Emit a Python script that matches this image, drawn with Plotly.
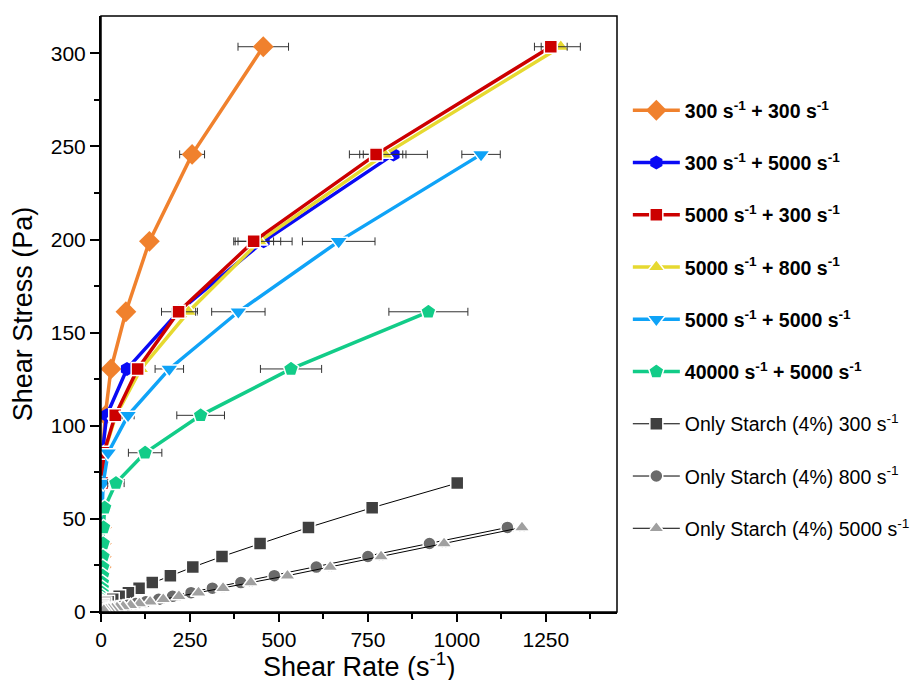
import plotly.graph_objects as go

FONT = "Liberation Sans, Arial, sans-serif"

# ---------------- data ----------------
# 300 s-1 + 300 s-1
orange_y = [303.5, 245.7, 199.0, 161.2, 130.5, 105.6, 85.5, 69.2, 56.0, 45.4, 36.8, 29.8, 24.1]
orange_x = [456, 256, 136, 70, 28, 12, 5, 2.5, 1.5, 1.0, 0.6, 0.4, 0.3]
orange_e = [71, 35, 8, 7, 8, 5, 2, 1, 0.5, 0.3, 0.2, 0.1, 0.1]

# 300 s-1 + 5000 s-1
blue_y = [245.7, 199.0, 161.2, 130.5, 105.6, 85.5, 69.2, 56.0, 45.4, 36.8, 29.8]
blue_x = [822, 457, 218, 73, 16, 4, 1.5, 0.8, 0.5, 0.3, 0.2]
blue_e = [95, 80, 18, 10, 8, 2, 1, 0.5, 0.3, 0.2, 0.1]

# 5000 s-1 + 300 s-1
red_y = [303.5, 245.7, 199.0, 161.2, 130.5, 105.6, 85.5, 69.2, 56.0, 45.4, 36.8, 29.8]
red_x = [1264, 773, 429, 218, 103, 40, 8, 3, 1.5, 0.8, 0.5, 0.3]
red_e = [46, 75, 56, 48, 12, 10, 3, 1, 0.5, 0.3, 0.2, 0.1]

# 5000 s-1 + 800 s-1
yellow_y = [303.5, 245.7, 199.0, 161.2, 130.5, 105.6, 85.5, 69.2, 56.0, 45.4, 36.8, 29.8]
yellow_x = [1292, 797, 445, 246, 112, 42, 9, 3, 1.5, 0.8, 0.5, 0.3]
yellow_e = [55, 60, 60, 25, 12, 8, 3, 1, 0.5, 0.3, 0.2, 0.1]

# 5000 s-1 + 5000 s-1
lblue_y = [245.7, 199.0, 161.2, 130.5, 105.6, 85.5, 69.2, 56.0, 45.4, 36.8, 29.8, 24.1]
lblue_x = [1068, 668, 386, 192, 76, 20, 6, 2.5, 1.5, 1.0, 0.6, 0.4]
lblue_e = [54, 102, 75, 40, 17, 6, 3, 1, 0.5, 0.3, 0.2, 0.1]

# 40000 s-1 + 5000 s-1
green_y = [161.2, 130.5, 105.6, 85.5, 69.2, 56.0, 45.4, 36.8, 29.8, 24.1, 19.5, 15.8,
           12.8, 10.4, 8.4, 6.8, 5.5, 4.5, 3.6, 2.9, 2.4, 1.9]
green_x = [920, 534, 280, 124, 42, 10, 7, 6, 5.5, 5, 4.5, 4, 3.5, 3, 2.5, 2, 1.6, 1.3,
           1.0, 0.8, 0.6, 0.5]
green_e = [111, 86, 67, 47, 23, 4, 2, 1.5, 1, 1, 1, 1, 0.5, 0.5, 0.5, 0.5, 0.3, 0.3,
           0.2, 0.2, 0.1, 0.1]

# Only Starch (4%) 300 s-1
st300_y = [69.2, 56.0, 45.4, 36.8, 29.8, 24.1, 19.5, 15.8, 12.8, 10.4, 8.4, 6.8, 5.5,
           4.5, 3.6, 2.9, 2.4, 1.9]
st300_x = [1001, 762, 583, 447, 340, 258, 195, 144, 107, 77, 51, 33, 20, 12, 7, 4, 2, 1]
st300_e = [5, 4, 4, 4, 3, 3, 3, 3, 2, 2, 2, 1, 1, 1, 1, 0.5, 0.5, 0.5]

# Only Starch (4%) 800 s-1
st800_y = [45.4, 36.8, 29.8, 24.1, 19.5, 15.8, 12.8, 10.4, 8.4, 6.8, 5.5, 4.5, 3.6,
           2.9, 2.4, 1.9, 1.6, 1.3, 1.0]
st800_x = [1142, 923, 750, 605, 487, 393, 313, 253, 201, 162, 126, 98, 75, 56, 40, 28,
           19, 12, 7]
st800_e = [15, 14, 12, 12, 11, 10, 9, 8, 7, 6, 5, 4, 4, 3, 3, 2, 2, 1, 1]

# Only Starch (4%) 5000 s-1
st5000_y = [45.4, 36.8, 29.8, 24.1, 19.5, 15.8, 12.8, 10.4, 8.4, 6.8, 5.5, 4.5, 3.6,
            2.9, 2.4, 1.9, 1.6, 1.3, 1.0]
st5000_x = [1183, 964, 787, 644, 524, 421, 343, 274, 219, 175, 138, 108, 83, 62, 45, 32,
            22, 14, 8]
st5000_e = [6, 5, 5, 4, 4, 4, 3, 3, 3, 2, 2, 2, 2, 1, 1, 1, 1, 0.5, 0.5]

x_ticks = [0, 250, 500, 750, 1000, 1250]
y_ticks = [0, 50, 100, 150, 200, 250, 300]

SUP = "s<sup>-1</sup>"
# rank = legend position; list order = drawing order
series = [
    dict(rank=1, name=f"<b>300 {SUP} + 300 {SUP}</b>", x=orange_x, y=orange_y, e=orange_e,
         color="#F0812D", symbol="diamond", size=16, lw=3.5, outline=None),
    dict(rank=2, name=f"<b>300 {SUP} + 5000 {SUP}</b>", x=blue_x, y=blue_y, e=blue_e,
         color="#0A0AF5", symbol="hexagon", size=14, lw=3.5, outline=None),
    dict(rank=4, name=f"<b>5000 {SUP} + 800 {SUP}</b>", x=yellow_x, y=yellow_y, e=yellow_e,
         color="#E6D930", symbol="triangle-up", size=15, lw=3.5, outline="white"),
    dict(rank=3, name=f"<b>5000 {SUP} + 300 {SUP}</b>", x=red_x, y=red_y, e=red_e,
         color="#CC0000", symbol="square", size=13, lw=3.5, outline="white"),
    dict(rank=5, name=f"<b>5000 {SUP} + 5000 {SUP}</b>", x=lblue_x, y=lblue_y, e=lblue_e,
         color="#0FA3F7", symbol="triangle-down", size=16, lw=3.5, outline="white"),
    dict(rank=6, name=f"<b>40000 {SUP} + 5000 {SUP}</b>", x=green_x, y=green_y, e=green_e,
         color="#12CC88", symbol="pentagon", size=16, lw=3.5, outline="white"),
    dict(rank=7, name=f"Only Starch (4%) 300 {SUP}", x=st300_x, y=st300_y, e=st300_e,
         color="#404040", symbol="square", size=13, lw=1, outline="white", linecolor="black"),
    dict(rank=8, name=f"Only Starch (4%) 800 {SUP}", x=st800_x, y=st800_y, e=st800_e,
         color="#6A6A6A", symbol="circle", size=13, lw=1, outline="white", linecolor="black"),
    dict(rank=9, name=f"Only Starch (4%) 5000 {SUP}", x=st5000_x, y=st5000_y, e=st5000_e,
         color="#A0A0A0", symbol="triangle-up", size=14, lw=1, outline="white", linecolor="black"),
]

fig = go.Figure()
for s in series:
    fig.add_trace(go.Scatter(
        x=s["x"], y=s["y"], name=s["name"], mode="lines+markers",
        legendgroup=f"g{s['rank']}", legendrank=s["rank"],
        line=dict(color=s.get("linecolor", s["color"]), width=s["lw"]),
        marker=dict(symbol=s["symbol"], size=s["size"], color=s["color"],
                    line=dict(color=s["outline"] or s["color"],
                              width=1.5 if s["outline"] else 0)),
        error_x=dict(type="data", array=s["e"], visible=True, color="#333333",
                     thickness=1, width=4),
    ))

axis_common = dict(
    showgrid=False, zeroline=False, showline=True, linecolor="black", linewidth=2,
    ticks="outside", tickcolor="black", tickwidth=1.5, automargin=False,
    tickfont=dict(family=FONT, size=21, color="black"),
)

fig.update_layout(
    width=914, height=680,
    margin=dict(l=101, r=297, t=16, b=68, autoexpand=False),
    paper_bgcolor="white", plot_bgcolor="white",
    font=dict(family=FONT, color="black"),
    xaxis=dict(range=[0, 1450], tickvals=x_ticks, ticklen=8,
               minor=dict(ticks="outside", dtick=125, ticklen=5, tickcolor="black", tickwidth=1.5),
               **axis_common),
    yaxis=dict(range=[0, 320], tickvals=y_ticks, ticklen=9,
               minor=dict(ticks="outside", dtick=25, ticklen=5, tickcolor="black", tickwidth=1.5),
               title=dict(text="Shear Stress (Pa)", font=dict(family=FONT, size=27), standoff=10),
               **axis_common),
    legend=dict(x=1.021, xanchor="left", y=0.874, yanchor="top",
                font=dict(family=FONT, size=19.5, color="black"),
                tracegroupgap=23.9, itemwidth=47, bgcolor="rgba(0,0,0,0)"),
    shapes=[dict(type="rect", xref="paper", yref="paper", x0=0, x1=1, y0=0, y1=1,
                 line=dict(color="black", width=1.5), layer="above")],
    annotations=[dict(text="Shear Rate (s<sup>-1</sup>)", xref="paper", yref="paper",
                      x=0.5, y=0, xanchor="center", yanchor="middle", yshift=-53,
                      showarrow=False, font=dict(family=FONT, size=27, color="black"))],
)

fig.write_html("out.html")
